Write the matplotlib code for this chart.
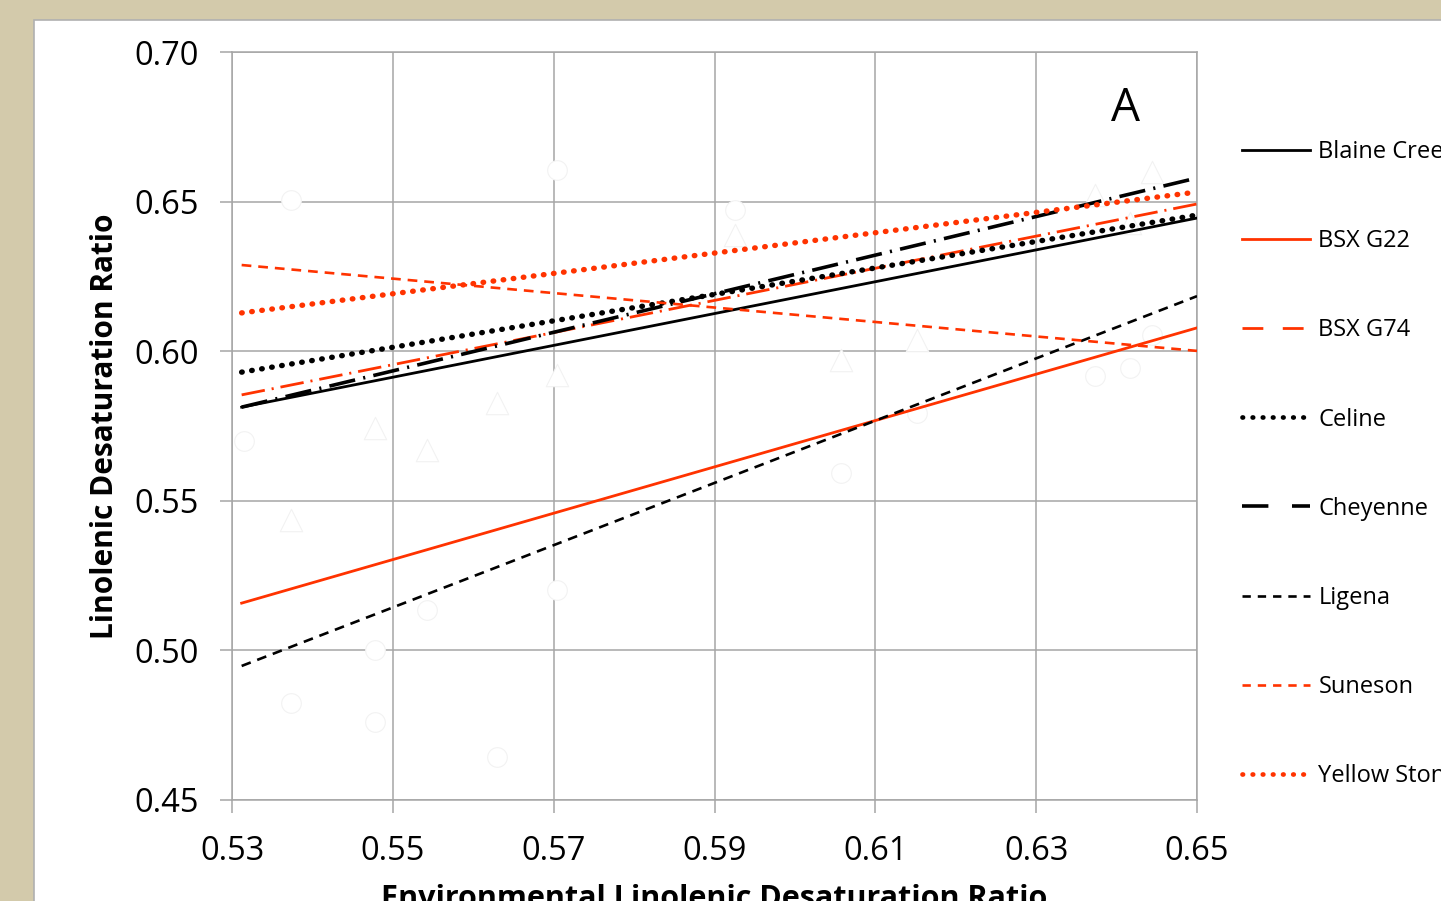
import numpy as np
import matplotlib.pyplot as plt
from matplotlib.lines import Line2D
from matplotlib.patches import Rectangle

plt.rcParams['font.family'] = ['Open Sans', 'DejaVu Sans']
plt.rcParams['lines.scale_dashes'] = False

# regression lines: environmental ratio range and fitted values at both ends
x_range = [0.5312, 0.65]
cultivars = ['Blaine Creek', 'BSX G22', 'BSX G74', 'Celine', 'Cheyenne',
             'Ligena', 'Suneson', 'Yellow Stone']
start_vals = [0.5813, 0.5158, 0.5854, 0.5930, 0.5813, 0.4948, 0.6288, 0.6128]
end_vals = [0.6445, 0.6078, 0.6492, 0.6455, 0.6579, 0.6184, 0.6001, 0.6532]

# observed points (very faint white markers)
circ_x = [0.5315, 0.5373, 0.5373, 0.5478, 0.5478, 0.5542, 0.5630, 0.5704, 0.5704,
          0.5925, 0.6057, 0.6152, 0.6373, 0.6417, 0.6444]
circ_y = [0.570, 0.4824, 0.6505, 0.4761, 0.500, 0.5135, 0.4644, 0.5202, 0.6606,
          0.6472, 0.5593, 0.5793, 0.5917, 0.5944, 0.6054]
tri_x = [0.5373, 0.5478, 0.5542, 0.5630, 0.5704, 0.5925, 0.6057, 0.6152, 0.6373,
         0.6417, 0.6444]
tri_y = [0.5436, 0.5743, 0.567, 0.5827, 0.592, 0.6388, 0.597, 0.6037, 0.6522,
         0.6430, 0.6599]

red = '#FF3300'
dots = (0.4, 6.9)
styles = [
    dict(color='black', lw=2.0, ls='-'),
    dict(color=red, lw=2.0, ls='-'),
    dict(color=red, lw=2.0, dashes=(17, 5, 1.5, 5)),
    dict(color='black', lw=3.9, dashes=dots, dash_capstyle='round'),
    dict(color='black', lw=2.6, dashes=(19, 6, 1.5, 6)),
    dict(color='black', lw=1.9, dashes=(7, 5)),
    dict(color=red, lw=1.9, dashes=(7, 5)),
    dict(color=red, lw=3.9, dashes=dots, dash_capstyle='round'),
]
legend_styles = [
    dict(color='black', lw=2.0, ls='-'),
    dict(color=red, lw=2.0, ls='-'),
    dict(color=red, lw=2.0, dashes=(15, 14)),
    dict(color='black', lw=3.4, dashes=dots, dash_capstyle='round'),
    dict(color='black', lw=2.6, dashes=(19, 17)),
    dict(color='black', lw=1.9, dashes=(6, 5)),
    dict(color=red, lw=1.9, dashes=(6, 5)),
    dict(color=red, lw=3.4, dashes=dots, dash_capstyle='round'),
]

fig = plt.figure(figsize=(14.41, 9.01), dpi=100)
fig.patch.set_facecolor('#D3CAAB')
fig.patches.append(Rectangle((34 / 1441, -0.1), 1.2, 1 - 20 / 901 + 0.1,
                             transform=fig.transFigure, facecolor='white',
                             edgecolor='#B0B0B0', lw=1.2, zorder=-10))

ax = fig.add_axes([232 / 1441, 1 - 800 / 901, 965 / 1441, 748 / 901])
ax.set_facecolor('none')
ax.set_xlim(0.53, 0.65)
ax.set_ylim(0.45, 0.70)
ax.set_xticks(np.arange(0.53, 0.651, 0.02))
ax.set_yticks(np.arange(0.45, 0.701, 0.05))
ax.xaxis.set_major_formatter(plt.FormatStrFormatter('%.2f'))
ax.yaxis.set_major_formatter(plt.FormatStrFormatter('%.2f'))
ax.grid(True, color='#A6A6A6', lw=1.1)
ax.set_axisbelow(True)
for s in ax.spines.values():
    s.set_color('#A6A6A6')
    s.set_linewidth(1.1)
ax.tick_params(axis='both', colors='#A6A6A6', length=9, width=1.1,
               labelcolor='black', labelsize=23.5)
ax.tick_params(axis='x', pad=16)
ax.tick_params(axis='y', pad=15)

ax.scatter(circ_x, circ_y, s=200, marker='o', facecolor='white',
           edgecolor='#F2F2F2', lw=0.8, zorder=2, clip_on=False)
ax.scatter(tri_x, tri_y, s=260, marker='^', facecolor='white',
           edgecolor='#F2F2F2', lw=0.8, zorder=2, clip_on=False)

for name, y0, y1, st in zip(cultivars, start_vals, end_vals, styles):
    ax.plot(x_range, [y0, y1], zorder=3, **st)

ax.set_ylabel('Linolenic Desaturation Ratio', fontsize=21.5, fontweight='bold',
              labelpad=10)
ax.set_xlabel('Environmental Linolenic Desaturation Ratio', fontsize=22,
              fontweight='bold', labelpad=12)
ax.text(0.926, 0.924, 'A', transform=ax.transAxes, fontsize=33,
        ha='center', va='center')

handles = [Line2D([0], [0], **st) for st in legend_styles]
ax.legend(handles, cultivars, loc='upper left',
          bbox_to_anchor=(1242 / 1441, 1 - 140 / 901),
          bbox_transform=fig.transFigure, frameon=False, fontsize=17,
          handlelength=2.9, handletextpad=0.34, labelspacing=2.76,
          borderpad=0, borderaxespad=0)

fig.savefig('out.png', dpi=100)
